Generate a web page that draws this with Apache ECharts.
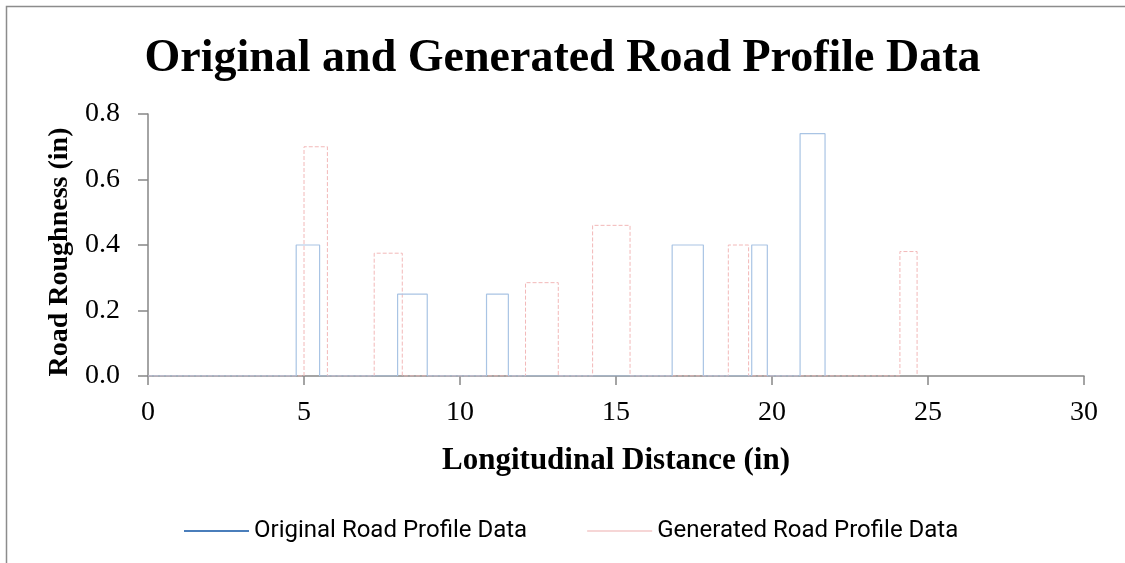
<!DOCTYPE html>
<html>
<head>
<meta charset="utf-8">
<script src="https://cdn.jsdelivr.net/npm/echarts@6/dist/echarts.min.js"></script>
<style>
html,body{margin:0;padding:0;background:#fff;}
#chart{width:1125px;height:563px;}
</style>
</head>
<body>
<div id="chart"></div>
<script>
// pulses: start, end and height of each rectangle (in)
var origStart  = [4.75, 8.0, 10.85, 16.8, 19.35, 20.9];
var origEnd    = [5.5, 8.95, 11.55, 17.8, 19.85, 21.7];
var origHeight = [0.4, 0.25, 0.25, 0.4, 0.4, 0.74];

var genStart  = [5.0, 7.25, 12.1, 14.25, 18.6, 24.1];
var genEnd    = [5.75, 8.15, 13.15, 15.45, 19.25, 24.65];
var genHeight = [0.7, 0.375, 0.285, 0.46, 0.4, 0.38];

var xTicks = [0, 5, 10, 15, 20, 25, 30];
var yTicks = [0.0, 0.2, 0.4, 0.6, 0.8];

// turn the pulses into a closed step profile
function profile(starts, ends, heights){
    var pts = [[0, 0]];
    for (var i = 0; i < starts.length; i++){
        pts.push([starts[i], 0]);
        pts.push([starts[i], heights[i]]);
        pts.push([ends[i], heights[i]]);
        pts.push([ends[i], 0]);
    }
    return pts;
}

var chart = echarts.init(document.getElementById('chart'));
var serif = '"Liberation Serif", "Times New Roman", serif';
var option = {
    animation: false,
    backgroundColor: '#fff',
    title: {
        text: 'Original and Generated Road Profile Data',
        left: 'center',
        top: 31,
        textStyle: {fontFamily: serif, fontWeight: 'bold', fontSize: 46, color: '#000'}
    },
    graphic: [{
        type: 'rect',
        shape: {x: 6.5, y: 6.5, width: 1130, height: 570},
        style: {fill: 'none', stroke: '#8c8c8c', lineWidth: 1.5},
        silent: true
    }],
    legend: {
        bottom: 15,
        left: 179,
        icon: 'rect',
        itemWidth: 65,
        itemHeight: 2,
        itemGap: 60,
        textStyle: {fontFamily: 'Roboto, sans-serif', fontSize: 24, color: '#000'},
        data: [
            {name: 'Original Road Profile Data', itemStyle: {color: '#4a7ebb'}},
            {name: 'Generated Road Profile Data', itemStyle: {color: '#f6d6d6'}}
        ]
    },
    grid: {left: 148, right: 41, top: 114, bottom: 187, containLabel: false},
    xAxis: {
        type: 'value',
        min: xTicks[0],
        max: xTicks[xTicks.length - 1],
        interval: 5,
        name: 'Longitudinal Distance (in)',
        nameLocation: 'middle',
        nameGap: 69,
        nameTextStyle: {fontFamily: serif, fontWeight: 'bold', fontSize: 31, color: '#000'},
        axisLine: {show: true, lineStyle: {color: '#868686', width: 1.5}},
        axisTick: {show: true, length: 9, lineStyle: {color: '#868686', width: 1.5}},
        axisLabel: {fontFamily: serif, fontSize: 28, color: '#000', margin: 23},
        splitLine: {show: false}
    },
    yAxis: {
        type: 'value',
        min: yTicks[0],
        max: yTicks[yTicks.length - 1],
        interval: 0.2,
        name: 'Road Roughness (in)',
        nameLocation: 'middle',
        nameGap: 74,
        nameTextStyle: {fontFamily: serif, fontWeight: 'bold', fontSize: 28, color: '#000', padding: [0, 14, 0, 0]},
        axisLine: {show: true, lineStyle: {color: '#868686', width: 1.5}},
        axisTick: {show: true, length: 10, lineStyle: {color: '#868686', width: 1.5}},
        axisLabel: {fontFamily: serif, fontSize: 28, color: '#000', margin: 28,
            formatter: function(v){ return v.toFixed(1); }},
        splitLine: {show: false}
    },
    series: [
        {
            name: 'Generated Road Profile Data',
            type: 'line',
            symbol: 'none',
            data: profile(genStart, genEnd, genHeight),
            lineStyle: {color: '#f2b8b8', width: 1, type: [4, 2]},
            itemStyle: {color: '#f6d6d6'}
        },
        {
            name: 'Original Road Profile Data',
            type: 'line',
            symbol: 'none',
            data: profile(origStart, origEnd, origHeight),
            lineStyle: {color: '#a9c4e4', width: 1.2},
            itemStyle: {color: '#4a7ebb'}
        }
    ]
};
chart.setOption(option);
</script>
</body>
</html>
